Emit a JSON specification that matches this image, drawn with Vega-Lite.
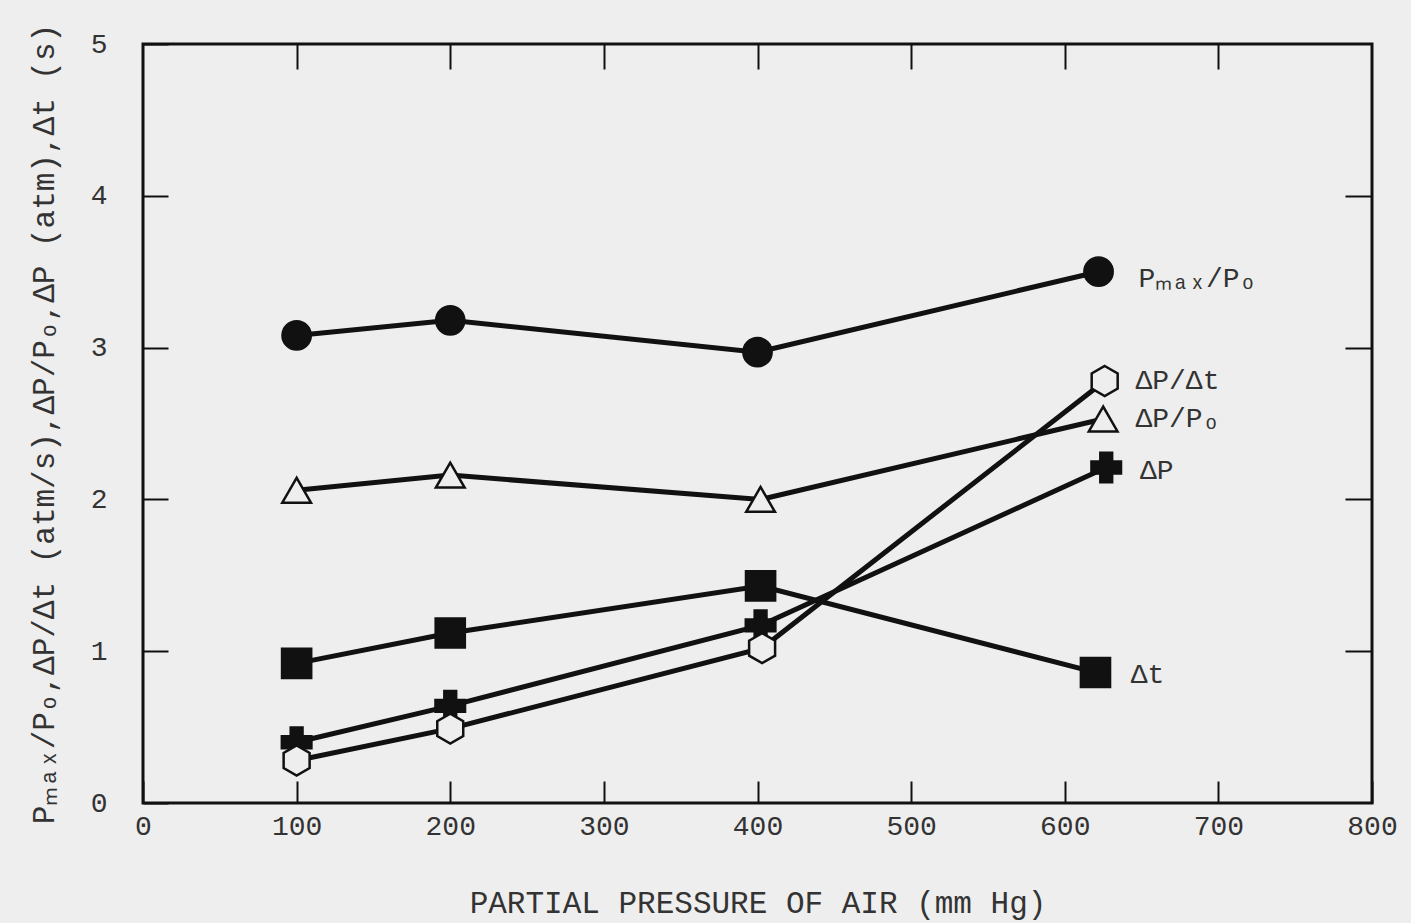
{
"$schema": "https://vega.github.io/schema/vega-lite/v6.json",
"width": 1229, "height": 759,
"autosize": {"type": "none"},
"padding": {"left": 143, "top": 44, "right": 39, "bottom": 120},
"background": "#eeeeee",
"config": {"view": {"stroke": "#111111", "strokeWidth": 3}, "font": "Liberation Mono"},
"datasets": {
"pts": [
{"series": "Pmax/Po", "p": 100, "v": 3.08},
{"series": "Pmax/Po", "p": 200, "v": 3.18},
{"series": "Pmax/Po", "p": 400, "v": 2.97},
{"series": "Pmax/Po", "p": 622, "v": 3.50},
{"series": "dP/Po", "p": 100, "v": 2.06},
{"series": "dP/Po", "p": 200, "v": 2.16},
{"series": "dP/Po", "p": 402, "v": 2.00},
{"series": "dP/Po", "p": 625, "v": 2.53},
{"series": "dt", "p": 100, "v": 0.92},
{"series": "dt", "p": 200, "v": 1.12},
{"series": "dt", "p": 402, "v": 1.43},
{"series": "dt", "p": 620, "v": 0.86},
{"series": "dP", "p": 100, "v": 0.40},
{"series": "dP", "p": 200, "v": 0.64},
{"series": "dP", "p": 402, "v": 1.17},
{"series": "dP", "p": 627, "v": 2.21},
{"series": "dP/dt", "p": 100, "v": 0.28},
{"series": "dP/dt", "p": 200, "v": 0.49},
{"series": "dP/dt", "p": 403, "v": 1.02},
{"series": "dP/dt", "p": 626, "v": 2.78}
],
"labels": [
{"text": "Pₘₐₓ/Pₒ", "p": 648, "v": 3.45},
{"text": "ΔP/Δt", "p": 646, "v": 2.78},
{"text": "ΔP/Pₒ", "p": 646, "v": 2.53},
{"text": "ΔP", "p": 649, "v": 2.19},
{"text": "Δt", "p": 643, "v": 0.84}
]
},
"resolve": {"axis": {"x": "independent", "y": "independent"}},
"layer": [
{
"data": {"name": "pts"},
"mark": {"type": "line", "stroke": "#111111", "strokeWidth": 5},
"encoding": {
"x": {"field": "p", "type": "quantitative", "scale": {"domain": [0, 800], "nice": false},
  "axis": {"orient": "bottom", "values": [0,100,200,300,400,500,600,700,800], "domain": false, "grid": false, "labelFlush": false,
   "tickSize": -22, "tickWidth": 2, "tickColor": "#111111", "labelPadding": 31, "labelFontSize": 28, "labelColor": "#333333", "labelFont": "Liberation Mono",
   "title": "PARTIAL PRESSURE OF AIR  (mm Hg)", "titleFont": "Liberation Mono", "titleFontSize": 31, "titleFontWeight": "normal", "titleColor": "#333333", "titlePadding": 48}},
"y": {"field": "v", "type": "quantitative", "scale": {"domain": [0, 5], "nice": false},
  "axis": {"orient": "left", "values": [0,1,2,3,4,5], "domain": false, "grid": false, "labelFlush": false,
   "tickSize": -25, "tickWidth": 2, "tickColor": "#111111", "labelPadding": 61, "labelFontSize": 28, "labelColor": "#333333", "labelFont": "Liberation Mono",
   "title": "Pₘₐₓ/Pₒ,ΔP/Δt (atm/s),ΔP/Pₒ,ΔP (atm),Δt (s)", "titleFont": "Liberation Mono", "titleFontSize": 31, "titleFontWeight": "normal", "titleColor": "#333333", "titlePadding": 30}},
"detail": {"field": "series"},
"order": {"field": "p", "type": "quantitative"}
}
},
{
"data": {"name": "pts"},
"mark": {"type": "point", "filled": false, "opacity": 1, "strokeWidth": 2.5, "stroke": "#111111"},
"encoding": {
"x": {"field": "p", "type": "quantitative",
  "axis": {"orient": "top", "values": [100,200,300,400,500,600,700], "domain": false, "grid": false, "labels": false, "title": null,
   "tickSize": -25, "tickWidth": 2, "tickColor": "#111111"}},
"y": {"field": "v", "type": "quantitative",
  "axis": {"orient": "right", "values": [1,2,3,4], "domain": false, "grid": false, "labels": false, "title": null,
   "tickSize": -27, "tickWidth": 2, "tickColor": "#111111"}},
"shape": {"field": "series", "type": "nominal", "legend": null,
  "scale": {"domain": ["Pmax/Po", "dP/Po", "dt", "dP", "dP/dt"],
   "range": ["circle", "triangle-up", "square", "cross", "M0,-1L0.866,-0.5L0.866,0.5L0,1L-0.866,0.5L-0.866,-0.5Z"]}},
"fill": {"field": "series", "type": "nominal", "legend": null,
  "scale": {"domain": ["Pmax/Po", "dP/Po", "dt", "dP", "dP/dt"],
   "range": ["#111111", "#eeeeee", "#111111", "#111111", "#eeeeee"]}},
"size": {"field": "series", "type": "nominal", "legend": null,
  "scale": {"domain": ["Pmax/Po", "dP/Po", "dt", "dP", "dP/dt"],
   "range": [800, 900, 900, 750, 1000]}}
}
},
{
"data": {"name": "labels"},
"mark": {"type": "text", "align": "left", "baseline": "middle", "font": "Liberation Mono", "fontSize": 28, "fill": "#333333"},
"encoding": {
"x": {"field": "p", "type": "quantitative", "axis": null},
"y": {"field": "v", "type": "quantitative", "axis": null},
"text": {"field": "text"}
}
}
]
}
